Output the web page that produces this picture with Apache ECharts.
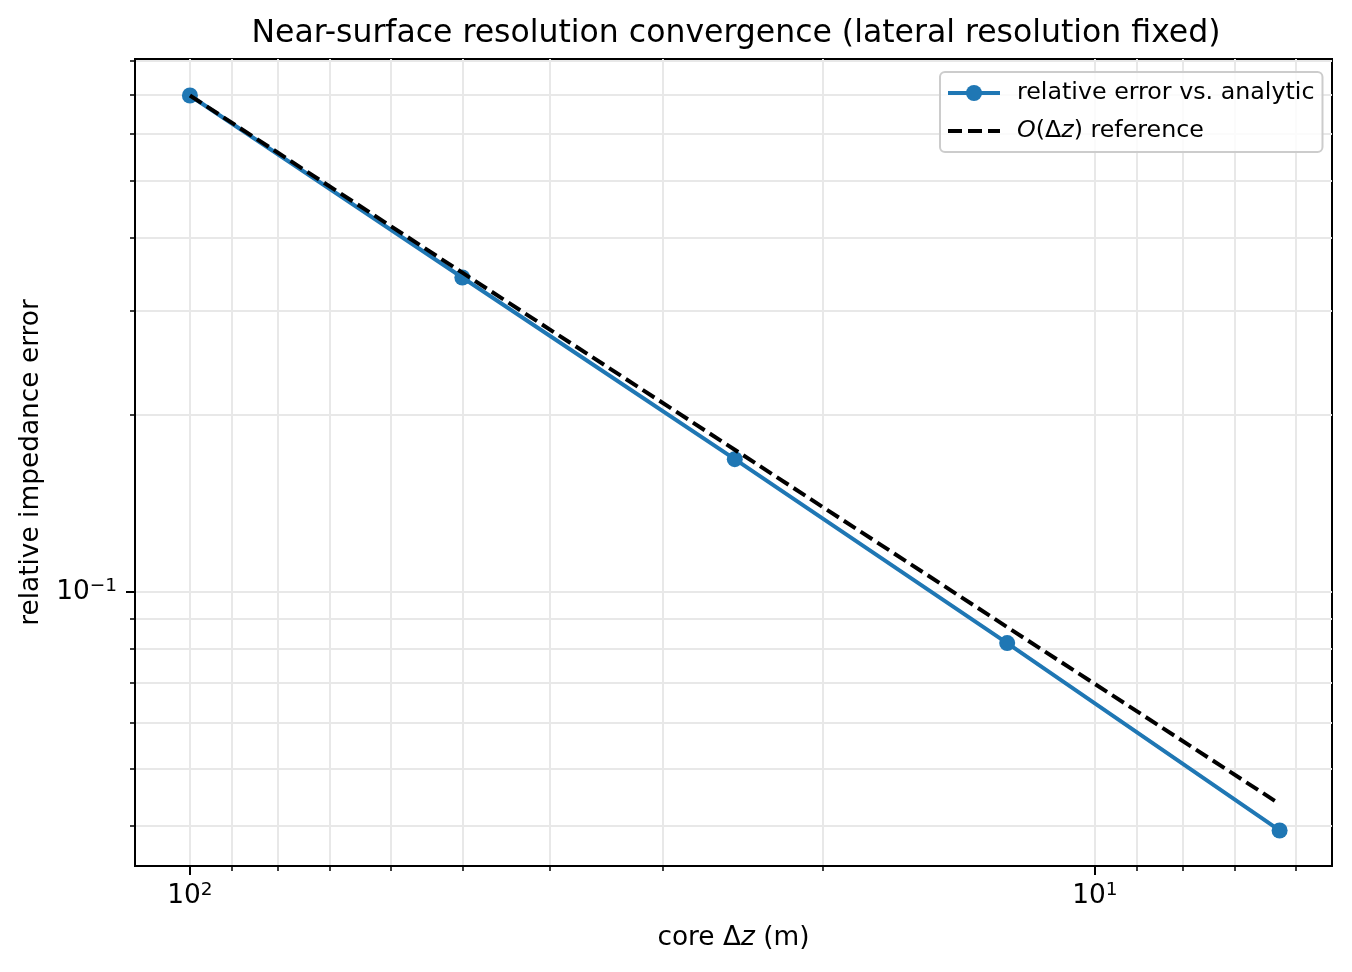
<!DOCTYPE html>
<html>
<head>
<meta charset="utf-8">
<script src="https://cdn.jsdelivr.net/npm/echarts@6/dist/echarts.min.js"></script>
<style>
html,body{margin:0;padding:0;background:#fff;}
#chart{width:1352px;height:972px;}
</style>
</head>
<body>
<div id="chart"></div>
<script>
// ---- data ----
const dz = [100, 50, 25, 12.5, 6.25];
const relErr = [0.697, 0.342, 0.168, 0.0818, 0.0393];
const refErr = [0.697, 0.3485, 0.1743, 0.0871, 0.0436];

const xMajorTicks = [100, 10];
const xMajorLabels = ['{b|10}{s|2}', '{b|10}{s|1}'];
const xMinorTicks = [90, 80, 70, 60, 50, 40, 30, 20, 9, 8, 7, 6];
const yMajorTicks = [0.1];
const yMajorLabels = ['{b|10}{s|\u22121}'];
const yMinorTicks = [0.04, 0.05, 0.06, 0.07, 0.08, 0.09, 0.2, 0.3, 0.4, 0.5, 0.6, 0.7, 0.8];

const xRange = [5.47, 115];
const yRange = [0.0342, 0.804];

const FONT = 'DejaVu Sans';
const gridColor = '#e8e8e8';
const richTick = {
  b: {fontFamily: FONT, fontSize: 26.4, color: '#000', lineHeight: 31},
  s: {fontFamily: FONT, fontSize: 18.5, color: '#000', lineHeight: 18, verticalAlign: 'top'}
};

function labelFor(ticks, labels) {
  return function (v) {
    for (let i = 0; i < ticks.length; i++) {
      if (Math.abs(v - ticks[i]) / ticks[i] < 1e-6) return labels[i];
    }
    return '';
  };
}

const chart = echarts.init(document.getElementById('chart'), null, {renderer: 'canvas'});

const option = {
  animation: false,
  backgroundColor: '#fff',
  title: {
    text: 'Near-surface resolution convergence (lateral resolution fixed)',
    left: 731, top: 13, textAlign: 'center',
    textStyle: {fontFamily: FONT, fontSize: 31.5, fontWeight: 'normal', color: '#000'}
  },
  grid: {
    left: 135, right: 20, top: 59, bottom: 106,
    show: true, borderColor: '#000', borderWidth: 2, backgroundColor: 'transparent'
  },
  legend: {
    orient: 'vertical',
    left: 940, top: 72,
    padding: [9, 8, 9, 6],
    itemGap: 14,
    itemWidth: 52, itemHeight: 20,
    backgroundColor: 'rgba(255,255,255,0.8)',
    borderColor: '#cccccc', borderWidth: 2, borderRadius: 5,
    lineStyle: {width: 4},
    textStyle: {
      fontFamily: FONT, fontSize: 23.75, color: '#000', padding: [0, 0, 0, 12],
      rich: {
        t: {fontFamily: FONT, fontSize: 23.75, color: '#000'},
        i: {fontFamily: FONT, fontSize: 23.75, color: '#000', fontStyle: 'italic'}
      }
    },
    formatter: function (name) {
      if (name === 'ref') return '{i|O}{t|(\u0394}{i|z}{t|) reference}';
      return name;
    },
    data: [
      {name: 'relative error vs. analytic'},
      {name: 'ref', itemStyle: {color: 'rgba(0,0,0,0)', borderWidth: 0}}
    ]
  },
  xAxis: [
    {
      type: 'log', inverse: true, min: xRange[0], max: xRange[1], position: 'bottom',
      name: '{n|core \u0394}{ni|z}{n| (m)}', nameLocation: 'middle', nameGap: 57,
      nameTextStyle: {
        rich: {
          n: {fontFamily: FONT, fontSize: 26.4, color: '#000', lineHeight: 31},
          ni: {fontFamily: FONT, fontSize: 26.4, color: '#000', lineHeight: 31, fontStyle: 'italic'}
        }
      },
      axisLine: {show: true, lineStyle: {color: '#000', width: 2}},
      axisTick: {show: true, customValues: xMajorTicks, length: 9, lineStyle: {color: '#000', width: 2}},
      axisLabel: {show: true, customValues: xMajorTicks, margin: 15, formatter: labelFor(xMajorTicks, xMajorLabels), rich: richTick},
      splitLine: {show: true, lineStyle: {color: gridColor, width: 2}},
      minorTick: {show: false}
    },
    {
      type: 'log', inverse: true, min: xRange[0], max: xRange[1], position: 'bottom',
      axisLine: {show: false},
      axisTick: {show: true, customValues: xMinorTicks, length: 5, lineStyle: {color: '#000', width: 1.5}},
      axisLabel: {show: false},
      splitLine: {show: true, lineStyle: {color: gridColor, width: 2}}
    }
  ],
  yAxis: [
    {
      type: 'log', min: yRange[0], max: yRange[1], position: 'left',
      name: 'relative impedance error', nameLocation: 'middle', nameGap: 91, nameRotate: 90,
      nameTextStyle: {fontFamily: FONT, fontSize: 26.4, color: '#000'},
      axisLine: {show: true, lineStyle: {color: '#000', width: 2}},
      axisTick: {show: true, customValues: yMajorTicks, length: 9, lineStyle: {color: '#000', width: 2}},
      axisLabel: {show: true, customValues: yMajorTicks, margin: 18, formatter: labelFor(yMajorTicks, yMajorLabels), rich: richTick},
      splitLine: {show: true, lineStyle: {color: gridColor, width: 2}}
    },
    {
      type: 'log', min: yRange[0], max: yRange[1], position: 'left',
      axisLine: {show: false},
      axisTick: {show: true, customValues: yMinorTicks, length: 5, lineStyle: {color: '#000', width: 1.5}},
      axisLabel: {show: false},
      splitLine: {show: true, lineStyle: {color: gridColor, width: 2}}
    }
  ],
  series: [
    {
      name: 'relative error vs. analytic',
      type: 'line', xAxisIndex: 0, yAxisIndex: 0,
      data: dz.map((x, i) => [x, relErr[i]]),
      symbol: 'circle', symbolSize: 16,
      itemStyle: {color: '#1f77b4'},
      lineStyle: {color: '#1f77b4', width: 4},
      z: 3
    },
    {
      name: 'ref',
      type: 'line', xAxisIndex: 0, yAxisIndex: 0,
      data: dz.map((x, i) => [x, refErr[i]]),
      symbol: 'none',
      itemStyle: {color: '#000'},
      lineStyle: {color: '#000', width: 4, type: [14, 6]},
      z: 4
    }
  ]
};
chart.setOption(option);
</script>
</body>
</html>
